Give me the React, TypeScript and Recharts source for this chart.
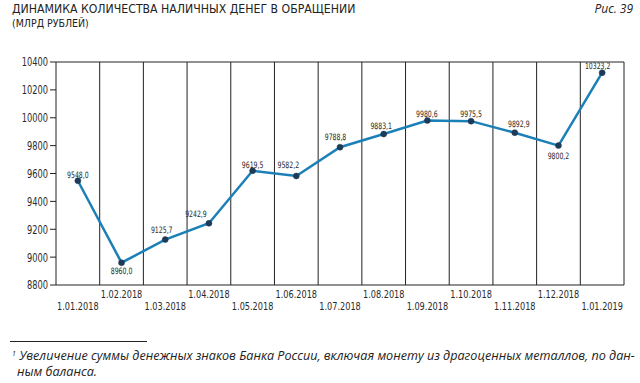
import React from 'react';
import { LineChart, Line, XAxis, YAxis, ReferenceLine } from 'recharts';

const categories = [
  '1.01.2018', '1.02.2018', '1.03.2018', '1.04.2018', '1.05.2018', '1.06.2018', '1.07.2018',
  '1.08.2018', '1.09.2018', '1.10.2018', '1.11.2018', '1.12.2018', '1.01.2019',
];
const values = [
  9548.0, 8960.0, 9125.7, 9242.9, 9619.5, 9582.2, 9788.8, 9883.1, 9980.6, 9975.5, 9892.9, 9800.2, 10323.2,
];
const yTicks = [8800, 9000, 9200, 9400, 9600, 9800, 10000, 10200, 10400];

// label nudges (style only): [dx, dy] of label centre relative to point
const labelNudges: [number, number][] = [
  [0, -6], [0, 8.5], [-3.5, -9.5], [-13, -9.5], [0, -6], [-8, -10.5], [-4.5, -9.5],
  [-2.5, -8], [-0.5, -6.5], [0, -7], [4, -8.5], [0, 11], [-4.5, -6],
];

const data = categories.map((c, i) => ({ idx: i, label: c, value: values[i] }));
const xTicks = categories.map((_, i) => i);
const boundaries = categories.slice(1).map((_, i) => i + 0.5);

const NARROW = "'Liberation Sans Narrow', 'DejaVu Sans Condensed', sans-serif";
const TEXT = '#2a2a2a';
const fmt = (v: number) => v.toFixed(1).replace('.', ',');

const SqText = ({ x, y, sx, anchor, size, baseline, children }: any) => (
  <text
    transform={`translate(${x},${y}) scale(${sx},1)`}
    x={0}
    y={0}
    textAnchor={anchor}
    dominantBaseline={baseline}
    fontFamily={NARROW}
    fontSize={size}
    fill={TEXT}
  >
    {children}
  </text>
);

const XTick = (props: any) => {
  const { x, y, payload } = props;
  const i = payload.value as number;
  const dy = i % 2 === 1 ? 13 : 25;
  return (
    <SqText x={x} y={y + dy} sx={0.84} anchor="middle" size={10.8}>
      {categories[i]}
    </SqText>
  );
};

const YTick = (props: any) => {
  const { x, y, payload } = props;
  return (
    <SqText x={x} y={y} sx={0.8} anchor="end" size={11.5} baseline="central">
      {payload.value}
    </SqText>
  );
};

const Dot = (props: any) => {
  const { cx, cy, index, value } = props;
  if (cx == null || cy == null) return null;
  const [dx, dy] = labelNudges[index] || [0, -6];
  const v = Array.isArray(value) ? value[1] : value;
  return (
    <g key={`d${index}`}>
      <circle cx={cx} cy={cy} r={3} fill="#1d3b57" stroke="#1d3b57" strokeWidth={0.5} />
      <SqText x={cx + dx} y={cy + dy} sx={0.78} anchor="middle" size={8.8} baseline="central">
        {fmt(v)}
      </SqText>
    </g>
  );
};

export default function App() {
  return (
    <div style={{ position: 'absolute', left: 0, top: 0, width: 640, height: 383, background: '#fff' }}>
      <svg width={640} height={383} style={{ position: 'absolute', left: 0, top: 0 }}>
        <text x={12} y={12.5} fontFamily={NARROW} fontSize={12.2} fill="#222">
          ДИНАМИКА КОЛИЧЕСТВА НАЛИЧНЫХ ДЕНЕГ В ОБРАЩЕНИИ
        </text>
        <text x={12} y={26.5} fontFamily={NARROW} fontSize={10.5} fill="#222">
          (МЛРД РУБЛЕЙ)
        </text>
        <text x={633} y={12.5} textAnchor="end" fontFamily="'Open Sans', sans-serif" fontStyle="italic" fontSize={12} fill="#222">
          Рис. 39
        </text>
        <line x1={10} y1={341.5} x2={147} y2={341.5} stroke="#222" strokeWidth={1} />
        <text x={12} y={360} fontFamily="'Open Sans', sans-serif" fontStyle="italic" fontSize={12.6} fill="#222">
          <tspan fontSize={7} dy={-4}>1</tspan>
          <tspan dy={4}> Увеличение суммы денежных знаков Банка России, включая монету из драгоценных металлов, по дан-</tspan>
        </text>
        <text x={17} y={376} fontFamily="'Open Sans', sans-serif" fontStyle="italic" fontSize={12.6} fill="#222">
          ным баланса.
        </text>
      </svg>
      <div style={{ position: 'absolute', left: 0, top: 0 }}>
        <LineChart width={640} height={383} data={data} margin={{ top: 62, right: 16, bottom: 78, left: 0 }}>
          <XAxis
            dataKey="idx"
            type="number"
            domain={[-0.5, 12.5]}
            ticks={xTicks}
            interval={0}
            height={20}
            tickLine={false}
            tickSize={0}
            tickMargin={0}
            axisLine={{ stroke: '#222', strokeWidth: 1 }}
            tick={<XTick />}
          />
          <YAxis
            type="number"
            domain={[8800, 10400]}
            ticks={yTicks}
            interval={0}
            width={56}
            tickSize={6}
            tickMargin={2}
            axisLine={{ stroke: '#222', strokeWidth: 1 }}
            tickLine={{ stroke: '#222', strokeWidth: 1 }}
            tick={<YTick />}
          />
          {boundaries.map((b) => (
            <ReferenceLine key={b} x={b} stroke="#222" strokeWidth={1} />
          ))}
          <ReferenceLine x={12.5} stroke="#222" strokeWidth={1} />
          <ReferenceLine y={10400} stroke="#222" strokeWidth={1} />
          <Line
            dataKey="value"
            stroke="#1c80b8"
            strokeWidth={2.5}
            dot={<Dot />}
            activeDot={false}
            isAnimationActive={false}
          />
        </LineChart>
      </div>
    </div>
  );
}
